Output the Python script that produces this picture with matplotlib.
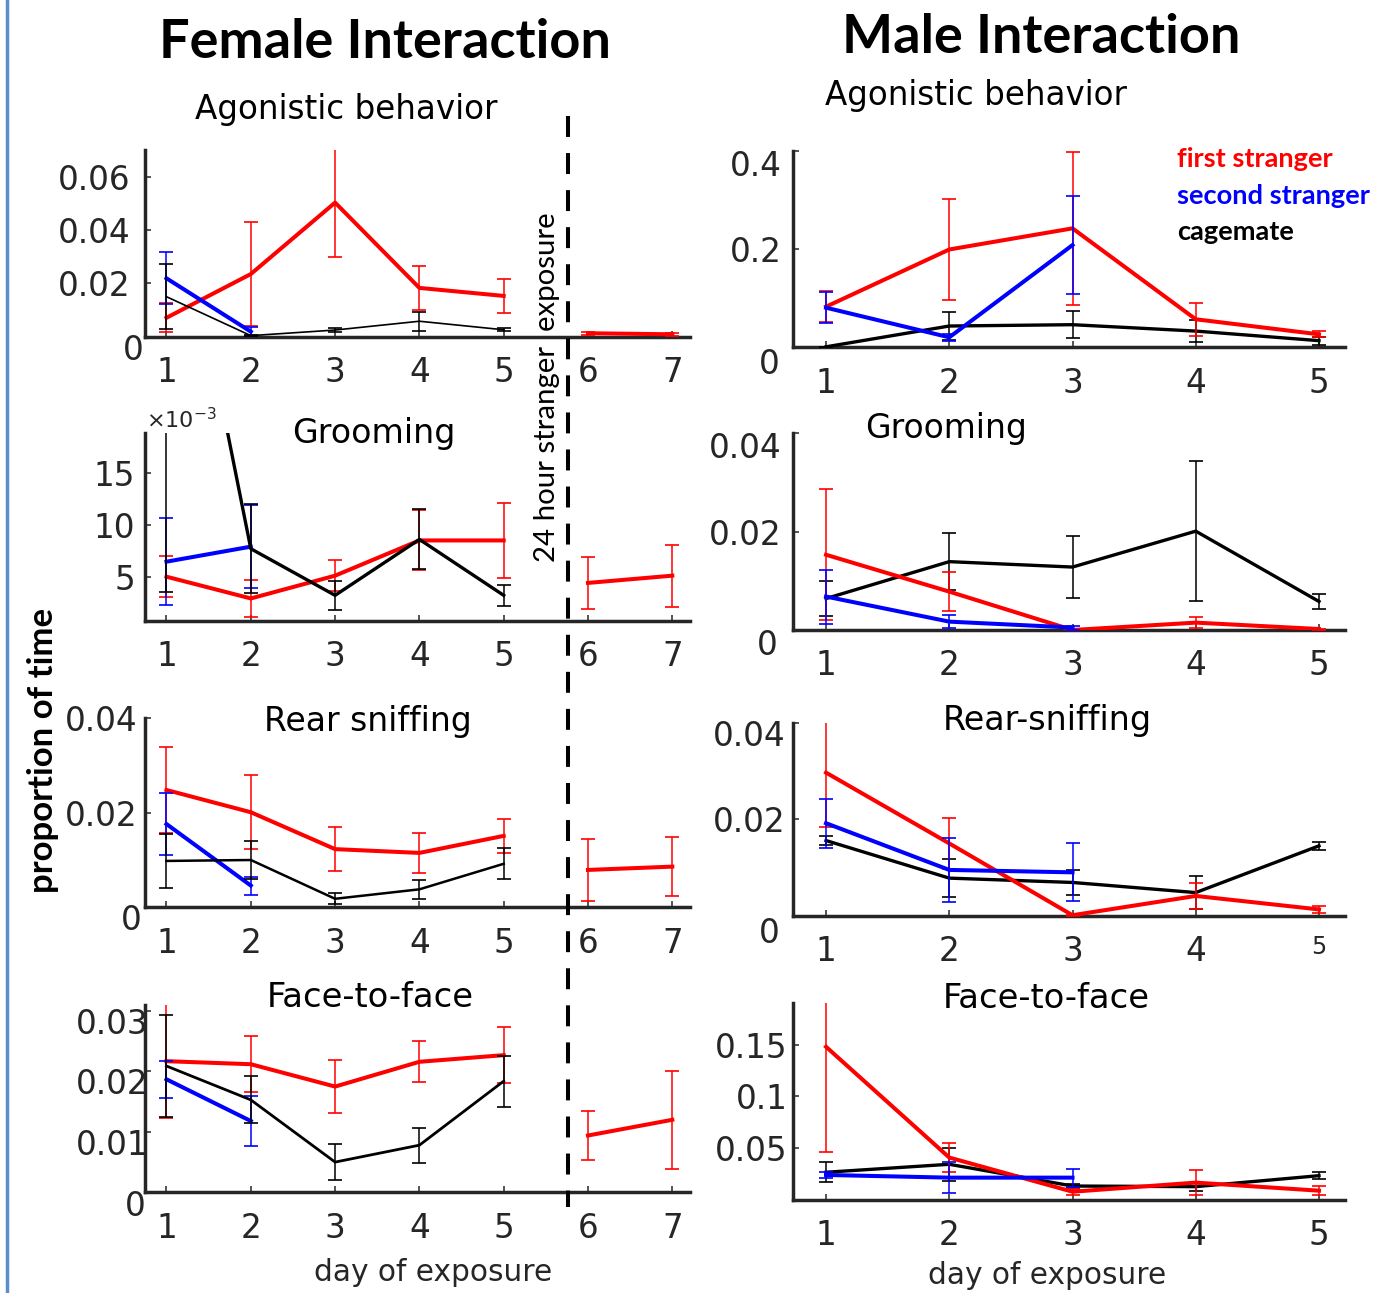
import matplotlib
matplotlib.use("Agg")
import matplotlib.pyplot as plt
from matplotlib.lines import Line2D
from matplotlib.transforms import ScaledTranslation

# ---------------- data ----------------
female_days = [1, 2, 3, 4, 5, 6, 7]
male_days = [1, 2, 3, 4, 5]

# Female - agonistic behavior
fa_red = [0.0071, 0.0235, 0.0503, 0.0183, 0.0153, 0.0013, 0.0009]
fa_red_err = [0.0055, 0.0195, 0.0205, 0.0082, 0.0064, 0.0006, 0.0005]
fa_blue = [0.0219, 0.0019]
fa_blue_err = [0.0098, 0.0016]
fa_black = [0.0150, 0.0004, 0.0025, 0.0058, 0.0026]
fa_black_err = [0.0122, 0.0002, 0.0006, 0.0036, 0.0005]

# Female - grooming
fg_red = [0.0050, 0.0029, 0.0051, 0.0085, 0.0085, 0.0044, 0.0051]
fg_red_err = [0.0020, 0.0018, 0.0015, 0.0029, 0.0036, 0.0025, 0.0030]
fg_blue = [0.00645, 0.0079]
fg_blue_err = [0.0042, 0.0040]
fg_black = [0.0484, 0.0077, 0.0032, 0.0086, 0.0032]
fg_black_err = [0.0449, 0.0043, 0.0014, 0.0029, 0.0010]

# Female - rear sniffing
fr_red = [0.0248, 0.0201, 0.0123, 0.0115, 0.0151, 0.0079, 0.0086]
fr_red_err = [0.0090, 0.0078, 0.0047, 0.0042, 0.0036, 0.0065, 0.0062]
fr_blue = [0.0176, 0.0046]
fr_blue_err = [0.0065, 0.0019]
fr_black = [0.0098, 0.0100, 0.0018, 0.0038, 0.0092]
fr_black_err = [0.0057, 0.0040, 0.0012, 0.0020, 0.0033]

# Female - face-to-face
ff_red = [0.0217, 0.0212, 0.0175, 0.0216, 0.0227, 0.0094, 0.0120]
ff_red_err = [0.0094, 0.0046, 0.0044, 0.0034, 0.0046, 0.0041, 0.0081]
ff_blue = [0.0187, 0.0118]
ff_blue_err = [0.0031, 0.0041]
ff_black = [0.0209, 0.0153, 0.0050, 0.0078, 0.0184]
ff_black_err = [0.0085, 0.0039, 0.0030, 0.0029, 0.0042]

# Male - agonistic behavior
ma_red = [0.0826, 0.199, 0.242, 0.057, 0.0264]
ma_red_err = [0.032, 0.103, 0.156, 0.034, 0.0062]
ma_blue = [0.0806, 0.0203, 0.208]
ma_blue_err = [0.032, 0.0075, 0.099]
ma_black = [0.001, 0.0433, 0.046, 0.033, 0.0135]
ma_black_err = [0.0005, 0.0278, 0.027, 0.0223, 0.0082]

# Male - grooming
mg_red = [0.0153, 0.0078, 0.0000, 0.0015, 0.0002]
mg_red_err = [0.0133, 0.0040, 0.0001, 0.0011, 0.0001]
mg_blue = [0.0068, 0.0017, 0.0005]
mg_blue_err = [0.0055, 0.0013, 0.0004]
mg_black = [0.0064, 0.0139, 0.0128, 0.0201, 0.0058]
mg_black_err = [0.0035, 0.0058, 0.0063, 0.0142, 0.0016]

# Male - rear sniffing
mr_red = [0.0297, 0.0150, 0.0001, 0.0041, 0.0013]
mr_red_err = [0.0112, 0.0053, 0.0001, 0.0027, 0.0008]
mr_blue = [0.0192, 0.0095, 0.0090]
mr_blue_err = [0.0051, 0.0067, 0.0060]
mr_black = [0.0156, 0.0078, 0.0069, 0.0048, 0.0145]
mr_black_err = [0.0009, 0.0040, 0.0026, 0.0034, 0.0009]

# Male - face-to-face
mf_red = [0.148, 0.041, 0.008, 0.0168, 0.009]
mf_red_err = [0.102, 0.014, 0.003, 0.012, 0.0045]
mf_blue = [0.0242, 0.0216, 0.0216]
mf_blue_err = [0.0032, 0.0150, 0.0087]
mf_black = [0.0268, 0.0345, 0.0135, 0.0129, 0.0235]
mf_black_err = [0.0097, 0.0160, 0.0015, 0.0040, 0.0035]

legend_labels = ["first stranger", "second stranger", "cagemate"]

# ---------------- figure ----------------
W, H = 1374, 1293
plt.rcParams["font.family"] = ["DejaVu Sans"]
fig = plt.figure(figsize=(W / 100, H / 100), dpi=100)
renderer = fig.canvas.get_renderer()
GRAY = "#262626"
RED, BLUE, BLACK = "#ff0000", "#0000ff", "#000000"


def px_offset(dx, dy):
    return ScaledTranslation(dx / 100.0, -dy / 100.0, fig.dpi_scale_trans)


def make_ax(x0, x1, ytop, ybot, xlim, ylim, xticks, yticks, ylabels, ypad, yoffs):
    ax = fig.add_axes([x0 / W, 1 - ybot / H, (x1 - x0) / W, (ybot - ytop) / H])
    ax.patch.set_alpha(0)
    ax.set_xlim(*xlim)
    ax.set_ylim(*ylim)
    for s in ("top", "right"):
        ax.spines[s].set_visible(False)
    for s in ("left", "bottom"):
        ax.spines[s].set_linewidth(2.5)
        ax.spines[s].set_color(GRAY)
    ax.set_xticks(xticks, [str(d) for d in xticks])
    ax.set_yticks(yticks, ylabels)
    ax.tick_params(direction="in", length=4, width=1.1, color=GRAY,
                   labelcolor=GRAY, labelsize=23.5)
    ax.tick_params(axis="x", pad=14)
    ax.tick_params(axis="y", pad=ypad)
    for lab, (dx, dy) in zip(ax.get_yticklabels(), yoffs):
        if dx or dy:
            lab.set_transform(lab.get_transform() + px_offset(dx, dy))
    return ax


def series(ax, days, vals, errs, color, lw, z):
    ax.errorbar(days, vals, yerr=errs, color=color, lw=lw, elinewidth=1.1,
                capsize=5, capthick=1.2, zorder=z)


FX = (145, 690)
MX = (793, 1345)
FXL = (0.745, 7.21)
MXL = (0.732, 5.211)

# Female panels
f1 = make_ax(*FX, 150.1, 336.7, FXL, (0, 0.07), female_days,
             [0, 0.02, 0.04, 0.06], ["0", "0.02", "0.04", "0.06"], 10.4,
             [(13, 10), (0, 0), (0, 0), (0, 0)])
f2 = make_ax(*FX, 433, 621, FXL, (0.000724, 0.01887), female_days,
             [0.005, 0.01, 0.015], ["5", "10", "15"], 7.2,
             [(0, 0), (0, 0), (0, 0)])
f3 = make_ax(*FX, 718.1, 907.3, FXL, (0, 0.04), female_days,
             [0, 0.02, 0.04], ["0", "0.02", "0.04"], 5.5,
             [(4, 10), (0, 0), (0, 0)])
f4 = make_ax(*FX, 1005, 1192.3, FXL, (0, 0.031), female_days,
             [0, 0.01, 0.02, 0.03], ["0", "0.01", "0.02", "0.03"], -2.5,
             [(-3, 11), (0, 10), (0, 10), (0, 10)])

female_sets = [
    (f1, fa_red, fa_red_err, fa_blue, fa_blue_err, fa_black, fa_black_err, 1.2),
    (f2, fg_red, fg_red_err, fg_blue, fg_blue_err, fg_black, fg_black_err, 2.4),
    (f3, fr_red, fr_red_err, fr_blue, fr_blue_err, fr_black, fr_black_err, 1.8),
    (f4, ff_red, ff_red_err, ff_blue, ff_blue_err, ff_black, ff_black_err, 2.0),
]
for ax, r, re, b, be, k, ke, klw in female_sets:
    series(ax, female_days[:5], r[:5], re[:5], RED, 2.9, 3)
    series(ax, female_days[5:], r[5:], re[5:], RED, 2.9, 3)
    series(ax, female_days[:len(b)], b, be, BLUE, 2.9, 4)
    series(ax, female_days[:len(k)], k, ke, BLACK, klw, 5)

# Male panels
m1 = make_ax(*MX, 150.7, 347.3, MXL, (0, 0.4), male_days,
             [0, 0.2, 0.4], ["0", "0.2", "0.4"], 8,
             [(-2, 14), (0, 0), (0, 12.5)])
m2 = make_ax(*MX, 433.3, 630, MXL, (0, 0.04), male_days,
             [0, 0.02, 0.04], ["0", "0.02", "0.04"], 8,
             [(-4.5, 12), (0, 0), (0, 11.5)])
m3 = make_ax(*MX, 723, 915.7, MXL, (0, 0.04), male_days,
             [0, 0.02, 0.04], ["0", "0.02", "0.04"], 5.3,
             [(-6, 14), (0, 0), (0, 10)])
m4 = make_ax(*MX, 1003.3, 1200, MXL, (0, 0.19), male_days,
             [0.05, 0.1, 0.15], ["0.05", "0.1", "0.15"], 3.8,
             [(0, 0), (0, 0), (0, 0)])
m3.get_xticklabels()[-1].set_fontsize(17)

male_sets = [
    (m1, ma_red, ma_red_err, ma_blue, ma_blue_err, ma_black, ma_black_err),
    (m2, mg_red, mg_red_err, mg_blue, mg_blue_err, mg_black, mg_black_err),
    (m3, mr_red, mr_red_err, mr_blue, mr_blue_err, mr_black, mr_black_err),
    (m4, mf_red, mf_red_err, mf_blue, mf_blue_err, mf_black, mf_black_err),
]
for ax, r, re, b, be, k, ke in male_sets:
    series(ax, male_days, k, ke, BLACK, 2.4, 3)
    series(ax, male_days, r, re, RED, 2.9, 4)
    series(ax, male_days[:len(b)], b, be, BLUE, 2.9, 5)


# ---------------- text ----------------
def fit_text(x, y, s, size_px, along="w", **kw):
    t = fig.text(x / W, 1 - y / H, s, fontsize=20, **kw)
    bb = t.get_window_extent(renderer=renderer)
    cur = bb.width if along == "w" else bb.height
    t.set_fontsize(20 * size_px / cur)
    return t


BOLD = dict(family=["Lato", "DejaVu Sans"], fontweight="bold")
t1 = fit_text(384.5, 58, "Female Interaction", 452, ha="center", va="baseline",
              color="black", **BOLD)
fig.text(1041 / W, 1 - 53 / H, "Male Interaction", fontsize=t1.get_fontsize(),
         ha="center", va="baseline", color="black", **BOLD)

subtitles = [
    ("Agonistic behavior", 346.5, 119, 303),
    ("Grooming", 373.5, 443, 163),
    ("Rear sniffing", 368, 731, 208),
    ("Face-to-face", 370.5, 1007, 207),
    ("Agonistic behavior", 976, 105, 302),
    ("Grooming", 946, 438, 162),
    ("Rear-sniffing", 1047.5, 730, 209),
    ("Face-to-face", 1046.5, 1008, 207),
]
for s, x, y, w in subtitles:
    fit_text(x, y, s, w, ha="center", va="baseline", color="black")

fit_text(433, 1281, "day of exposure", 238, ha="center", va="baseline", color=GRAY)
fit_text(1047, 1284, "day of exposure", 238, ha="center", va="baseline", color=GRAY)

fit_text(43, 750.5, "proportion of time", 285, along="h", rotation=90,
         ha="center", va="center", color="black", **BOLD)

fit_text(547, 387.4, "24 hour stranger  exposure", 351, along="h", rotation=90,
         ha="center", va="center", color="black", family=["Lato", "DejaVu Sans"])

fig.text(146 / W, 1 - 420 / H, r"$\times$10$^{-3}$", fontsize=16,
         ha="left", va="center", color=GRAY)

leg = fit_text(1177, 204, legend_labels[1], 193, ha="left", va="baseline",
               color=BLUE, **BOLD)
fig.text(1177 / W, 1 - 167 / H, legend_labels[0], fontsize=leg.get_fontsize(),
         ha="left", va="baseline", color=RED, **BOLD)
fig.text(1177 / W, 1 - 240 / H, legend_labels[2], fontsize=leg.get_fontsize(),
         ha="left", va="baseline", color=BLACK, **BOLD)

# dashed separator and left border
fig.add_artist(Line2D([567.5 / W, 567.5 / W], [1 - 116 / H, 1 - 1207 / H],
                      transform=fig.transFigure, color="black", lw=2.9,
                      dashes=(5.2, 4.0)))
fig.add_artist(Line2D([7 / W, 7 / W], [0, 1], transform=fig.transFigure,
                      color="#5b8ccc", lw=2.5))

fig.savefig("out.png", dpi=100)
